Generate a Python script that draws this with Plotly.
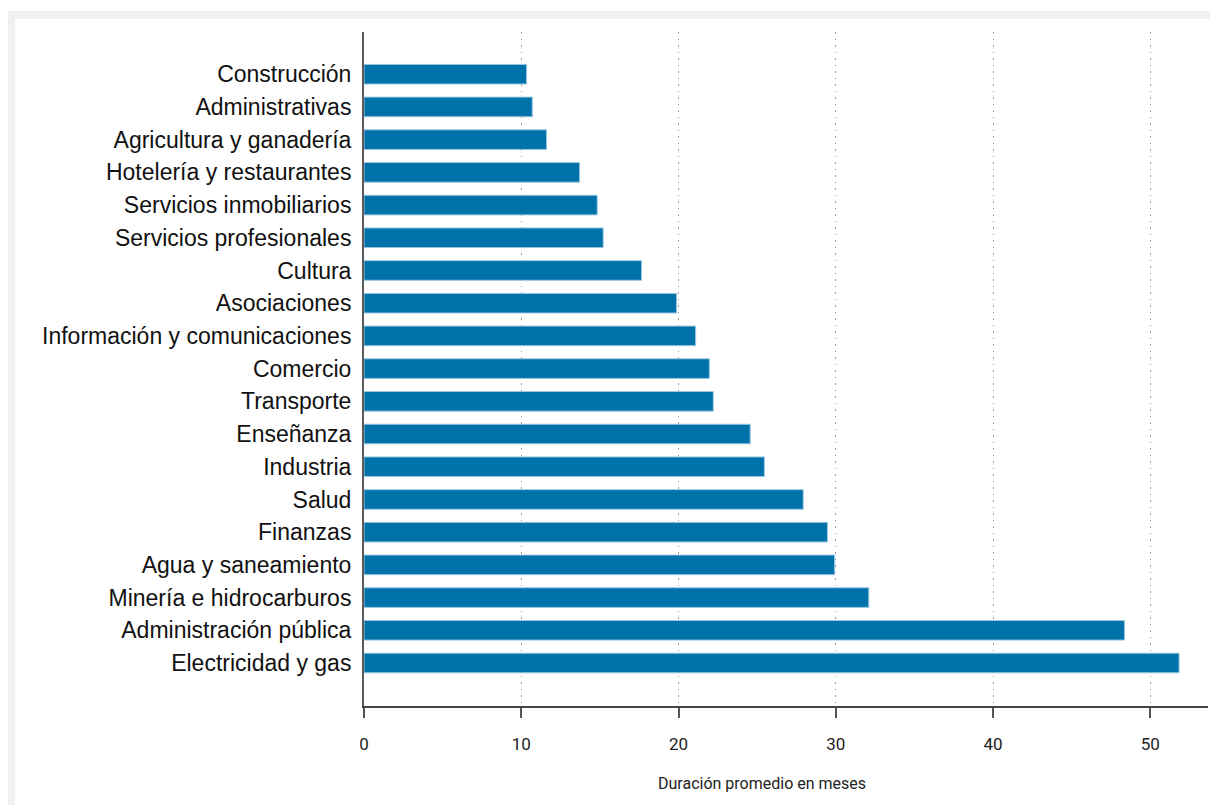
import plotly.graph_objects as go

# ---- data (top to bottom as drawn) ----
sectores = [
    "Construcción", "Administrativas", "Agricultura y ganadería",
    "Hotelería y restaurantes", "Servicios inmobiliarios",
    "Servicios profesionales", "Cultura", "Asociaciones",
    "Información y comunicaciones", "Comercio", "Transporte",
    "Enseñanza", "Industria", "Salud", "Finanzas",
    "Agua y saneamiento", "Minería e hidrocarburos",
    "Administración pública", "Electricidad y gas",
]
duracion_meses = [
    10.34, 10.70, 11.61, 13.71, 14.83, 15.21, 17.65, 19.88, 21.09,
    21.96, 22.21, 24.56, 25.46, 27.93, 29.47, 29.93, 32.10, 48.36, 51.83,
]
x_ticks = [0, 10, 20, 30, 40, 50]
x_title = "Duración promedio en meses"
chart_title = "Duración promedio de la relación laboral por sector productivo"

# ---- layout geometry (figure pixels; page has an 8px body offset) ----
OFF = 8
W, H = 1210, 797
L, T = 356, 24
PW = 1200.3 - L
PH = 697.7 - T
R = W - L - PW
B = H - T - PH


def px(xp):
    """page-pixel x -> paper coordinate"""
    return (xp - OFF - L) / PW


def py(yp):
    """page-pixel y -> paper coordinate"""
    return (T + PH - (yp - OFF)) / PH


fig = go.Figure(
    go.Bar(
        x=duracion_meses,
        y=sectores,
        orientation="h",
        width=0.6,
        marker=dict(color="#0072AA", line=dict(color="#9cc8e2", width=1)),
        hoverinfo="x+y",
    )
)

shapes = [
    dict(type="rect", xref="paper", yref="paper", layer="below",
         x0=px(7), x1=px(1240), y0=py(830), y1=py(11),
         fillcolor="#f0f0f0", line=dict(width=0)),
    dict(type="rect", xref="paper", yref="paper", layer="below",
         x0=px(15), x1=px(1240), y0=py(830), y1=py(19),
         fillcolor="#ffffff", line=dict(width=0)),
]

annotations = [
    dict(text=x_title, xref="paper", yref="paper", x=px(762), y=py(783),
         xanchor="center", yanchor="middle", showarrow=False,
         font=dict(family="Roboto", size=16, color="#222222")),
    dict(text="<b>" + chart_title + "</b>", xref="paper", yref="paper",
         x=px(336), y=1, xanchor="left", yanchor="bottom", yshift=T - 1,
         showarrow=False,
         font=dict(family="Liberation Sans, Arial", size=23, color="#111111")),
]

fig.update_layout(
    width=W, height=H,
    margin=dict(l=L, r=R, t=T, b=B, pad=0),
    paper_bgcolor="#ffffff",
    plot_bgcolor="rgba(0,0,0,0)",
    showlegend=False,
    shapes=shapes,
    annotations=annotations,
    xaxis=dict(
        range=[0, 53.67],
        tickvals=x_ticks,
        ticktext=[str(v) for v in x_ticks],
        showgrid=True, gridcolor="#9a9a9a", gridwidth=1, griddash="1.5px,5px",
        zeroline=False,
        showline=True, linecolor="#444444", linewidth=2,
        ticks="outside", ticklen=10, tickwidth=2, tickcolor="#555555",
        ticklabelstandoff=12,
        tickfont=dict(family="Roboto", size=17, color="#222222"),
    ),
    yaxis=dict(
        type="category",
        categoryorder="array", categoryarray=sectores,
        range=[19.315, -1.291],
        showgrid=False, zeroline=False,
        showline=True, linecolor="#5a5a5a", linewidth=2,
        ticks="", ticklabelstandoff=6,
        tickfont=dict(family="Liberation Sans, Arial", size=23, color="#111111"),
    ),
)

fig.write_html("out.html")
